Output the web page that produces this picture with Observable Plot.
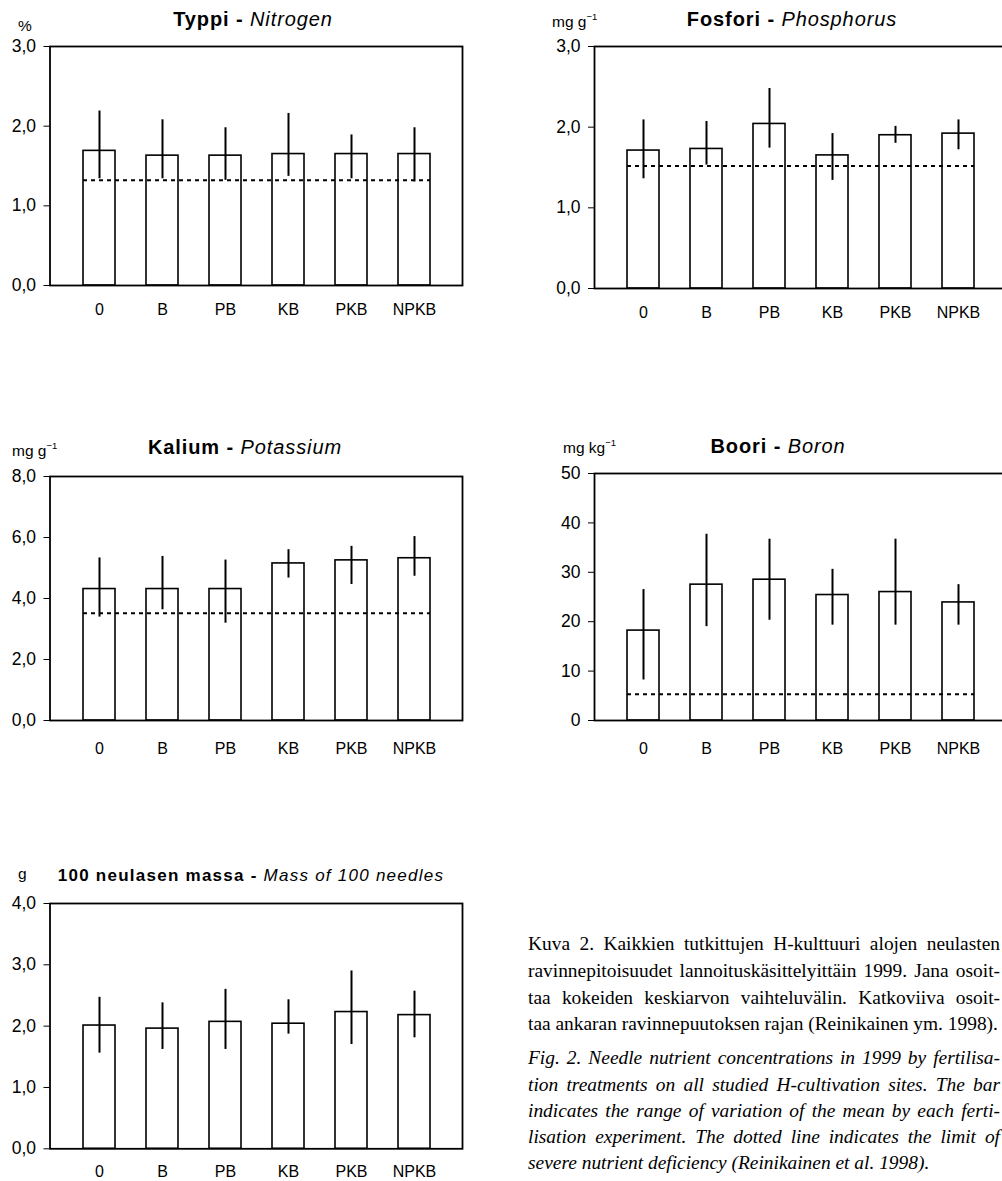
<!DOCTYPE html>
<html><head><meta charset="utf-8">
<script src="https://cdn.jsdelivr.net/npm/d3@7"></script>
<script src="https://cdn.jsdelivr.net/npm/@observablehq/plot@0.6"></script>
<style>
html,body{margin:0;padding:0;background:#fff;}
body{width:1002px;height:1181px;overflow:hidden;position:relative;font-family:"Liberation Sans",Arial,sans-serif;color:#000;}
.abs{position:absolute;white-space:nowrap;line-height:1;}
.panel{position:absolute;}
.panel svg{max-width:none !important;}
.title{font-size:20px;font-weight:bold;letter-spacing:0.9px;transform:translateX(-50%);}
.title i{font-weight:normal;}
.title.small{font-size:17px;letter-spacing:1.25px;}
.unit{font-size:15.5px;}
.unit sup{font-size:9.5px;vertical-align:7px;line-height:0;}
.cap{position:absolute;left:528px;width:472px;font-family:"Liberation Serif","Times New Roman",serif;font-size:19.5px;line-height:1;white-space:nowrap;text-align:justify;text-align-last:justify;}
.cap.last{text-align-last:left;}
.cap.it{font-style:italic;}
</style></head><body>
<script>
// ---- data ----
const categories = ["0", "B", "PB", "KB", "PKB", "NPKB"];

const nitrogenMean = [1.69, 1.63, 1.63, 1.65, 1.65, 1.65];
const nitrogenLow  = [1.34, 1.34, 1.32, 1.37, 1.34, 1.30];
const nitrogenHigh = [2.19, 2.08, 1.98, 2.16, 1.89, 1.98];
const nitrogenLimit = 1.32;

const phosphorusMean = [1.71, 1.73, 2.04, 1.65, 1.90, 1.92];
const phosphorusLow  = [1.36, 1.53, 1.74, 1.34, 1.80, 1.72];
const phosphorusHigh = [2.09, 2.07, 2.48, 1.92, 2.01, 2.09];
const phosphorusLimit = 1.52;

const potassiumMean = [4.31, 4.31, 4.31, 5.15, 5.25, 5.32];
const potassiumLow  = [3.39, 3.63, 3.19, 4.67, 4.46, 4.73];
const potassiumHigh = [5.33, 5.38, 5.26, 5.60, 5.71, 6.03];
const potassiumLimit = 3.52;

const boronMean = [18.2, 27.5, 28.5, 25.4, 26.0, 23.9];
const boronLow  = [8.2, 19.0, 20.3, 19.3, 19.3, 19.3];
const boronHigh = [26.5, 37.7, 36.7, 30.6, 36.7, 27.5];
const boronLimit = 5.3;

const massMean = [2.01, 1.96, 2.07, 2.04, 2.23, 2.18];
const massLow  = [1.56, 1.62, 1.62, 1.87, 1.70, 1.81];
const massHigh = [2.47, 2.38, 2.60, 2.43, 2.90, 2.57];

const ticks3 = [0, 1, 2, 3];
const ticks8 = [0, 2, 4, 6, 8];
const ticks50 = [0, 10, 20, 30, 40, 50];
const ticks4 = [0, 1, 2, 3, 4];

const comma1 = d => d.toFixed(1).replace(".", ",");
const plain = d => String(d);

function panel(o) {
  const data = categories.map((c, i) => ({cat: c, mean: o.means[i], lo: o.lows[i], hi: o.highs[i]}));
  const marks = [
    Plot.barY(data, {x: "cat", y: "mean", fill: "white", stroke: "black", strokeWidth: 1.6}),
    Plot.ruleX(data, {x: "cat", y1: "lo", y2: "hi", stroke: "black", strokeWidth: 2})
  ];
  if (o.limit != null) {
    marks.push(Plot.ruleY([{y: o.limit, x1: categories[0], x2: categories[categories.length - 1]}],
      {y: "y", x1: "x1", x2: "x2", stroke: "black", strokeWidth: 2, strokeDasharray: "4,4"}));
  }
  marks.push(Plot.frame({stroke: "black", strokeWidth: 1.8}));
  const svg = Plot.plot({
    width: o.width, height: o.height,
    marginTop: o.mt, marginRight: o.mr, marginBottom: o.mb, marginLeft: o.ml,
    style: {fontFamily: "'Liberation Sans', Arial, sans-serif", fontSize: "16px", color: "black", background: "white", overflow: "visible", maxWidth: "none"},
    x: {domain: categories, padding: 0.5, tickSize: 0, tickPadding: o.labelPad, label: null},
    y: {domain: o.domain, ticks: o.ticks, tickFormat: o.fmt, tickSize: 6, tickPadding: 8, label: null},
    marks
  });
  svg.style.maxWidth = "none";
  // slightly larger y tick labels, as in the reference
  d3.select(svg).selectAll("g[aria-label^='y-axis'] text").attr("font-size", 17.5).style("font-size", "17.5px");
  const div = document.createElement("div");
  div.className = "panel";
  div.style.left = o.left + "px";
  div.style.top = o.top + "px";
  div.style.width = o.width + "px";
  div.appendChild(svg);
  document.body.appendChild(div);
}

panel({left: 0, top: 36, width: 500, height: 300, mt: 10, mr: 38, mb: 51, ml: 49.5, labelPad: 18,
  means: nitrogenMean, lows: nitrogenLow, highs: nitrogenHigh, limit: nitrogenLimit, domain: [0, 3], ticks: ticks3, fmt: comma1});
panel({left: 520, top: 36, width: 507, height: 300, mt: 10, mr: 20, mb: 48, ml: 74, labelPad: 18,
  means: phosphorusMean, lows: phosphorusLow, highs: phosphorusHigh, limit: phosphorusLimit, domain: [0, 3], ticks: ticks3, fmt: comma1});
panel({left: 0, top: 466, width: 500, height: 300, mt: 10, mr: 38, mb: 46, ml: 49.5, labelPad: 22,
  means: potassiumMean, lows: potassiumLow, highs: potassiumHigh, limit: potassiumLimit, domain: [0, 8], ticks: ticks8, fmt: comma1});
panel({left: 520, top: 463, width: 507, height: 300, mt: 10, mr: 20, mb: 43, ml: 74, labelPad: 22,
  means: boronMean, lows: boronLow, highs: boronHigh, limit: boronLimit, domain: [0, 50], ticks: ticks50, fmt: plain});
panel({left: 0, top: 893, width: 500, height: 288, mt: 10, mr: 38, mb: 32.7, ml: 49.5, labelPad: 17,
  means: massMean, lows: massLow, highs: massHigh, limit: null, domain: [0, 4], ticks: ticks4, fmt: comma1});
</script>

<div class="abs title" style="left:253px;top:9px;">Typpi - <i>Nitrogen</i></div>
<div class="abs title" style="left:792px;top:9px;">Fosfori - <i>Phosphorus</i></div>
<div class="abs title" style="left:245px;top:437px;">Kalium - <i>Potassium</i></div>
<div class="abs title" style="left:778px;top:436px;">Boori - <i>Boron</i></div>
<div class="abs title small" style="left:251px;top:867px;">100 neulasen massa - <i>Mass of 100 needles</i></div>

<div class="abs unit" style="left:18px;top:18px;">%</div>
<div class="abs unit" style="left:552px;top:14px;">mg g<sup>−1</sup></div>
<div class="abs unit" style="left:12px;top:443px;">mg g<sup>−1</sup></div>
<div class="abs unit" style="left:563px;top:440px;">mg kg<sup>−1</sup></div>
<div class="abs unit" style="left:18px;top:866px;">g</div>

<div class="cap" style="top:934px;"><span>Kuva 2. Kaikkien tutkittujen H-kulttuuri alojen neulasten</span></div>
<div class="cap" style="top:961px;"><span>ravinnepitoisuudet lannoituskäsittelyittäin 1999. Jana osoit-</span></div>
<div class="cap" style="top:988px;"><span>taa kokeiden keskiarvon vaihteluvälin. Katkoviiva osoit-</span></div>
<div class="cap last" style="top:1014px;"><span>taa ankaran ravinnepuutoksen rajan (Reinikainen ym. 1998).</span></div>
<div class="cap it" style="top:1048px;"><span>Fig. 2. Needle nutrient concentrations in 1999 by fertilisa-</span></div>
<div class="cap it" style="top:1075px;"><span>tion treatments on all studied H-cultivation sites. The bar</span></div>
<div class="cap it" style="top:1101px;"><span>indicates the range of variation of the mean by each ferti-</span></div>
<div class="cap it" style="top:1127px;"><span>lisation experiment. The dotted line indicates the limit of</span></div>
<div class="cap it last" style="top:1153px;"><span>severe nutrient deficiency (Reinikainen et al. 1998).</span></div>
<script>
// fit the caption column inside the window (shrink font if any line is too long)
(function () {
  const caps = Array.from(document.querySelectorAll(".cap"));
  let maxW = 0;
  caps.forEach(c => { maxW = Math.max(maxW, c.firstElementChild.getBoundingClientRect().width); });
  const avail = 470;
  if (maxW > avail) {
    const fs = 19.5 * avail / maxW;
    caps.forEach(c => { c.style.fontSize = fs.toFixed(2) + "px"; });
  }
})();
</script>
</body></html>
